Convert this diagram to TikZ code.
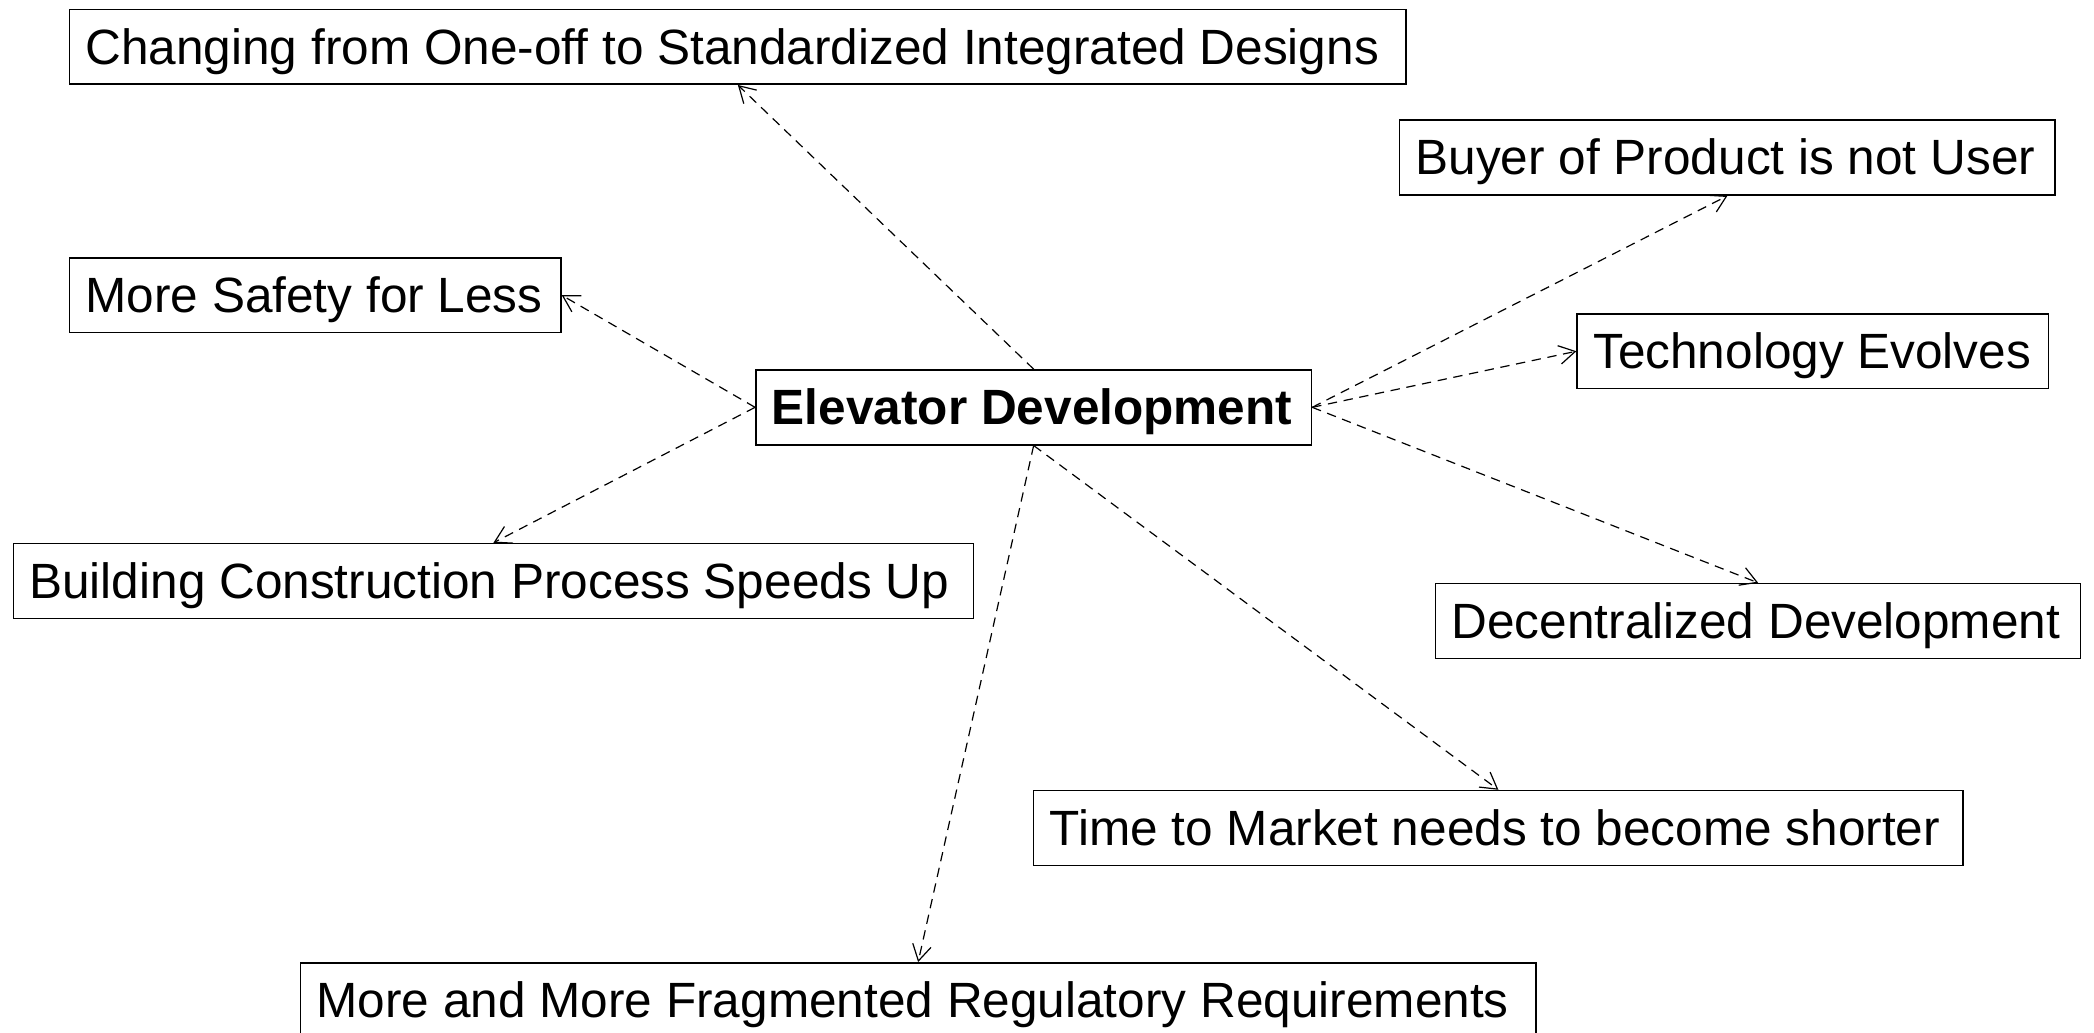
\documentclass[tikz,border=0pt]{standalone}
\usepackage{fontspec}
\setmainfont{Liberation Sans}
\usetikzlibrary{arrows.meta}
\newcommand\lboxtxt[2]{\makebox[#1][l]{#2}}
\begin{document}
\begin{tikzpicture}[x=0.5pt,y=-0.5pt,
  box/.style={draw,line width=0.6pt,font=\fontsize{18.55pt}{20pt}\selectfont,inner xsep=6pt,inner ysep=0pt,minimum height=28pt,text height=15pt,text depth=2pt},
  link/.style={line width=0.45pt,dash pattern=on 3.5pt off 2.5pt,-{Straight Barb[length=6pt,width=7pt,line width=0.45pt]}}]
\useasboundingbox (0,0) rectangle (1568,773.5);
\clip (0,0) rectangle (1568,773.5);
\node[box] (change) at (552.5,35) {\lboxtxt{488.5pt}{Changing from One-off to Standardized Integrated Designs}};
\node[box] (buyer) at (1293.5,118) {\lboxtxt{233.5pt}{Buyer of Product is not User}};
\node[box] (safety) at (236,221) {\lboxtxt{172pt}{More Safety for Less}};
\node[box] (tech) at (1357.5,263) {\lboxtxt{164.5pt}{Technology Evolves}};
\node[box,font=\fontsize{18.55pt}{20pt}\selectfont\bfseries] (elev) at (774,305) {\lboxtxt{196pt}{Elevator Development}};
\node[box] (build) at (369.5,435) {\lboxtxt{347.5pt}{Building Construction Process Speeds Up}};
\node[box] (decent) at (1316.5,465) {\lboxtxt{229.5pt}{Decentralized Development}};
\node[box] (time) at (1122,620) {\lboxtxt{336pt}{Time to Market needs to become shorter}};
\node[box] (frag) at (687.5,749) {\lboxtxt{450.5pt}{More and More Fragmented Regulatory Requirements}};
\draw[link] (elev.north) -- (change.south);
\draw[link] (elev.west) -- (safety.east);
\draw[link] (elev.west) -- (build.north);
\draw[link] (elev.east) -- (buyer.south);
\draw[link] (elev.east) -- (tech.west);
\draw[link] (elev.east) -- (decent.north);
\draw[link] (elev.south) -- (time.north);
\draw[link] (elev.south) -- (frag.north);
\end{tikzpicture}
\end{document}
